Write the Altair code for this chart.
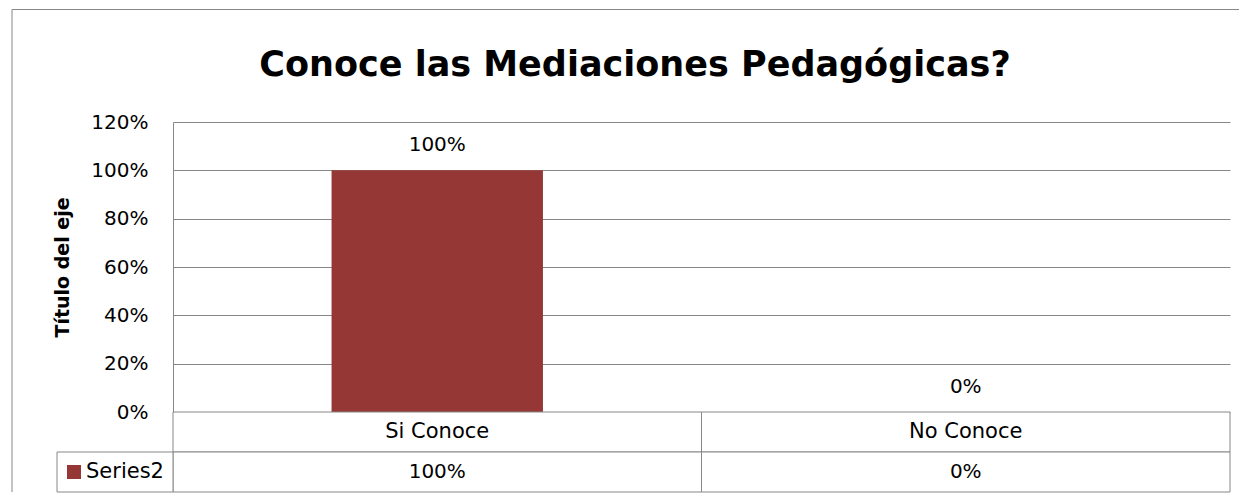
import altair as alt
import pandas as pd

# ---- data ----
categories = ["Si Conoce", "No Conoce"]
values = [1.0, 0.0]
series_name = "Series2"
title_text = "Conoce las Mediaciones Pedagógicas?"
y_title = "Título del eje"
y_ticks = [0, 0.2, 0.4, 0.6, 0.8, 1.0, 1.2]
row_keys = ["cat", "val"]

value_labels = [f"{v:.0%}" for v in values]
df = pd.DataFrame({"cat": categories, "val": values, "label": value_labels})

# ---- style ----
W, H = 1057, 290
TH = 80
FONT = "DejaVu Sans"
BAR = "#953735"
GRID = "#878787"
NOVIEW = alt.ViewBackground(stroke="transparent", strokeWidth=0)

xscale = alt.Scale(domain=categories, paddingInner=0.6, paddingOuter=0.3)
yscale = alt.Scale(domain=[0, 1.2], nice=False)

base = alt.Chart(df)

bars = base.mark_bar(color=BAR).encode(
    x=alt.X("cat:N", scale=xscale, sort=categories, axis=None),
    y=alt.Y(
        "val:Q",
        scale=yscale,
        axis=alt.Axis(
            values=y_ticks,
            format=".0%",
            title=y_title,
            grid=True,
            gridColor=GRID,
            gridWidth=1,
            domain=True,
            domainColor=GRID,
            ticks=False,
            labelPadding=25,
            labelFont=FONT,
            labelFontSize=20,
            labelColor="black",
            titleFont=FONT,
            titleFontSize=19,
            titleFontWeight="bold",
            titleColor="black",
            titlePadding=18,
        ),
    ),
)

labels = base.mark_text(dy=-25, font=FONT, fontSize=20, color="black").encode(
    x=alt.X("cat:N", scale=xscale, sort=categories, axis=None),
    y=alt.Y("val:Q", scale=yscale),
    text="label:N",
)

title_df = pd.DataFrame({"t": [title_text]})
title = alt.Chart(title_df).mark_text(
    font=FONT, fontSize=35, fontWeight="bold", color="black", baseline="middle"
).encode(text="t:N", x=alt.value(462), y=alt.value(-57))

border_top = alt.Chart(title_df).mark_rule(color=GRID, strokeWidth=1).encode(
    x=alt.value(-161), x2=alt.value(1066), y=alt.value(-112.5)
)
border_left = alt.Chart(title_df).mark_rule(color=GRID, strokeWidth=1).encode(
    x=alt.value(-161), y=alt.value(-112.5), y2=alt.value(370)
)

main = alt.layer(border_top, border_left, bars, labels, title).properties(
    width=W, height=H, view=NOVIEW
)

# ---- data table ----
table_df = pd.DataFrame(
    {
        "col": categories * 2,
        "row": [row_keys[0]] * len(categories) + [row_keys[1]] * len(categories),
        "txt": categories + value_labels,
        "size": [21] * len(categories) + [20] * len(categories),
    }
)
tx = alt.Scale(domain=categories, paddingInner=0, paddingOuter=0)
ty = alt.Scale(domain=row_keys, paddingInner=0, paddingOuter=0)

cells = alt.Chart(table_df).mark_rect(fill="white", stroke=GRID, strokeWidth=1).encode(
    x=alt.X("col:N", scale=tx, sort=categories, axis=None),
    y=alt.Y("row:N", scale=ty, sort=row_keys, axis=None),
)
cell_text = alt.Chart(table_df).mark_text(font=FONT, color="black").encode(
    x=alt.X("col:N", scale=tx, sort=categories, axis=None),
    y=alt.Y("row:N", scale=ty, sort=row_keys, axis=None),
    text="txt:N",
    size=alt.Size("size:Q", scale=None, legend=None),
)

leg_df = pd.DataFrame({"s": [series_name], "row": [row_keys[1]]})
leg_cell = alt.Chart(leg_df).mark_rect(fill="white", stroke=GRID, strokeWidth=1).encode(
    x=alt.value(-116),
    x2=alt.value(0),
    y=alt.Y("row:N", scale=ty, sort=row_keys, axis=None),
)
leg_sym = alt.Chart(leg_df).mark_square(size=196, color=BAR, opacity=1).encode(
    x=alt.value(-99),
    y=alt.Y("row:N", scale=ty, sort=row_keys, axis=None),
)
leg_text = alt.Chart(leg_df).mark_text(
    align="left", font=FONT, fontSize=21, color="black"
).encode(
    x=alt.value(-87),
    y=alt.Y("row:N", scale=ty, sort=row_keys, axis=None),
    text="s:N",
)

table = alt.layer(cells, cell_text, leg_cell, leg_sym, leg_text).properties(
    width=W, height=TH, view=NOVIEW
)

chart = (
    alt.vconcat(main, table, spacing=0, bounds="flush")
    .properties(padding={"left": 3, "top": 1, "right": 0, "bottom": 0})
    .configure_view(strokeWidth=0, stroke="transparent")
    .configure(background="white")
)

chart.save("out.html", embed_options={"renderer": "svg", "actions": False})
